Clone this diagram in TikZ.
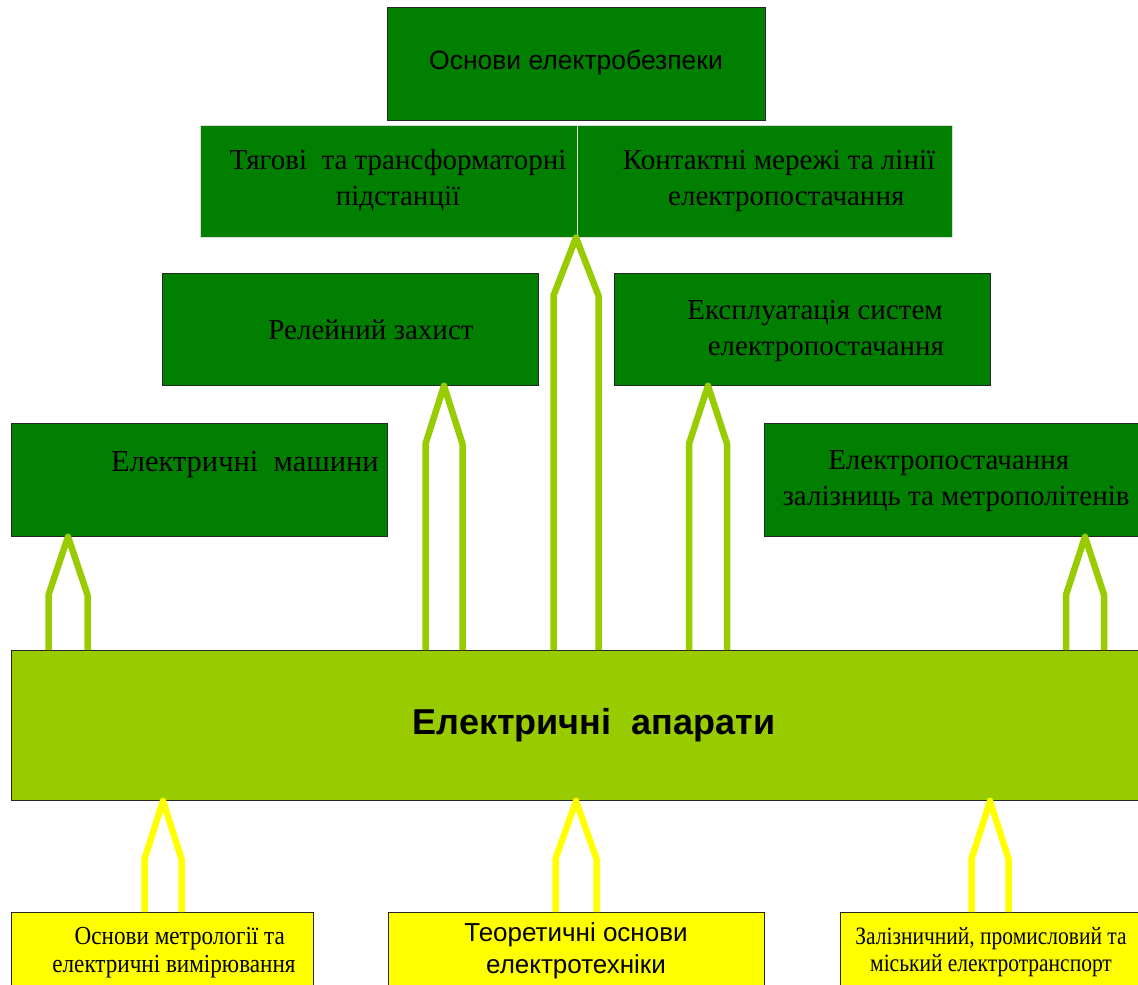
\documentclass[tikz,border=0pt]{standalone}
\usepackage{fontspec}
\setmainfont{Liberation Serif}
\newfontfamily\arialfont{Liberation Sans}
\usetikzlibrary{calc}

\definecolor{darkgreen}{HTML}{007F00}
\definecolor{limegreen}{HTML}{99CC00}
\definecolor{brightyellow}{HTML}{FFFF00}

\tikzset{
  darkbox/.style={rectangle, fill=darkgreen, draw=black!85, line width=0.8pt,
    anchor=north west, inner sep=0pt},
  pairbox/.style={darkbox, draw=white!85!black, line width=0.6pt},
  yellowbox/.style={darkbox, fill=brightyellow},
  liftline/.style={line width=6.5pt, line join=round},
  serifsmall/.style={align=center, font=\fontsize{29}{36}\selectfont},
  narrowtext/.style={align=center, font=\fontsize{26}{28}\selectfont}
}

% outlined block arrow: [half width]{colour}{from}{to}{x}
\newcommand{\liftarrow}[5][19]{%
  \draw[liftline, #2] ($(#3.north -| #5,0)+(-#1,0)$) -- ($(#4.south -| #5,0)+(-#1,58)$)
    -- (#4.south -| #5,0) -- ($(#4.south -| #5,0)+(#1,58)$) -- ($(#3.north -| #5,0)+(#1,0)$);}

\begin{document}
\begin{tikzpicture}[x=1pt, y=-1pt]
  \clip (0,0) rectangle (1138,985);
  \fill[white] (0,0) rectangle (1138,985);

  % boxes
  \node[darkbox, minimum width=378, minimum height=113] (safety) at (387,7) {};
  \node[pairbox, minimum width=377, minimum height=112] (traction) at (200,125) {};
  \node[pairbox, minimum width=375, minimum height=112] (contact) at (577,125) {};
  \node[darkbox, minimum width=376, minimum height=112] (relay) at (162,273) {};
  \node[darkbox, minimum width=376, minimum height=112] (operation) at (614,273) {};
  \node[darkbox, minimum width=376, minimum height=113] (machines) at (11,423) {};
  \node[darkbox, minimum width=376, minimum height=113] (supply) at (764,423) {};
  \node[darkbox, fill=limegreen, line width=1pt, minimum width=1130, minimum height=150] (apparatus) at (11,650) {};
  \node[yellowbox, minimum width=302, minimum height=80] (metrology) at (11,912) {};
  \node[yellowbox, minimum width=376, minimum height=80] (theory) at (388,912) {};
  \node[yellowbox, minimum width=300, minimum height=80] (transport) at (840,912) {};

  % arrows up into the apparatus box
  \liftarrow[18.5]{brightyellow}{metrology}{apparatus}{163}
  \liftarrow[20.5]{brightyellow}{theory}{apparatus}{576}
  \liftarrow[18.5]{brightyellow}{transport}{apparatus}{990}

  % arrows out of the apparatus box
  \liftarrow[19.5]{limegreen}{apparatus}{machines}{68}
  \liftarrow[18.5]{limegreen}{apparatus}{relay}{444}
  \liftarrow[22.5]{limegreen}{apparatus}{traction}{576}
  \liftarrow[19]{limegreen}{apparatus}{operation}{708}
  \liftarrow[19]{limegreen}{apparatus}{supply}{1085}

  % texts
  \node[font=\fontsize{26.5}{30}\selectfont\arialfont] (safetytext) at (576,63) {Основи електробезпеки};
  \node[serifsmall] (tractiontext) at (398,180) {Тягові \ та трансформаторні\\підстанції};
  \node[serifsmall] (contacttext) at (779,181) {Контактні мережі та лінії\\ \ \ електропостачання};
  \node[serifsmall] (relaytext) at (371,330) {Релейний захист};
  \node[serifsmall] (operationtext) at (815,331) {Експлуатація систем\\ \ \ \ електропостачання};
  \node[serifsmall, font=\fontsize{30.5}{36}\selectfont] (machinestext) at (245,465) {Електричні \ машини};
  \node[serifsmall] (supplytext) at (956,481) {Електропостачання \ \ \\ залізниць та метрополітенів};
  \node[font=\fontsize{36}{40}\selectfont\arialfont\bfseries] (apparatustext) at (594,725) {Електричні \ апарати};
  \node[narrowtext] (metrologytext) at (174,953) {\scalebox{0.89}[1]{\ \ Основи метрології та}\\\scalebox{0.89}[1]{електричні вимірювання}};
  \node[align=center, font=\fontsize{26}{32}\selectfont\arialfont] (theorytext) at (576,951) {Теоретичні основи\\електротехніки};
  \node[narrowtext, font=\fontsize{25}{27}\selectfont] (transporttext) at (991,952) {\scalebox{0.86}[1]{Залізничний, промисловий та}\\\scalebox{0.86}[1]{міський електротранспорт}};
\end{tikzpicture}
\end{document}
